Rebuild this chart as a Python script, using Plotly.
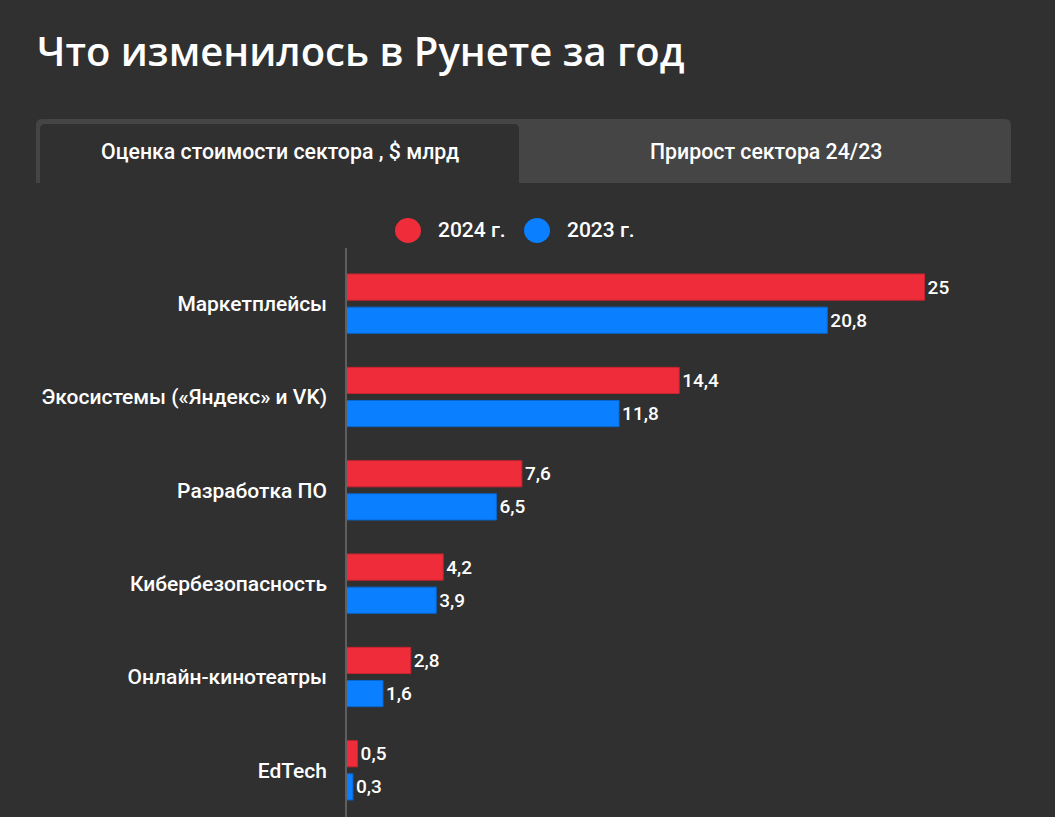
import plotly.graph_objects as go

categories = ["Маркетплейсы", "Экосистемы («Яндекс» и VK)", "Разработка ПО",
              "Кибербезопасность", "Онлайн-кинотеатры", "EdTech"]
values_2024 = [25, 14.4, 7.6, 4.2, 2.8, 0.5]
values_2023 = [20.8, 11.8, 6.5, 3.9, 1.6, 0.3]
series_names = ["2024 г.", "2023 г."]
tab_labels = ["Оценка стоимости сектора , $ млрд", "Прирост сектора 24/23"]
title_text = "Что изменилось в Рунете за год"

RED = "#EF2D3A"
BLUE = "#0A7FFF"
BG = "#303030"
TAB_BG = "#454545"

W, H = 1055, 817
ML, MR, MT, MB = 346, 61, 257, 0
PW = W - ML - MR
PH = H - MT - MB


def px(x):
    return (x - ML) / PW


def py(y):
    return (H - MB - y) / PH


def fmt(v):
    return f"{v:g}".replace(".", ",")


def top_rounded(x0, x1, y0, y1, r):
    # rectangle in pixels with rounded top corners, as paper-space path
    return (f"M {px(x0)},{py(y1)} L {px(x0)},{py(y0 + r)} "
            f"Q {px(x0)},{py(y0)} {px(x0 + r)},{py(y0)} "
            f"L {px(x1 - r)},{py(y0)} Q {px(x1)},{py(y0)} {px(x1)},{py(y0 + r)} "
            f"L {px(x1)},{py(y1)} Z")


fig = go.Figure()
for name, vals, col, edge in [(series_names[0], values_2024, RED, "#c9232f"),
                              (series_names[1], values_2023, BLUE, "#0867d0")]:
    fig.add_trace(go.Bar(
        y=categories, x=vals, name=name, orientation="h",
        marker=dict(color=col, line=dict(width=1, color=edge)),
        text=[fmt(v) for v in vals], textposition="outside",
        textfont=dict(family="Roboto", size=19, color="white", weight=500),
        cliponaxis=False, showlegend=False,
    ))

shapes = [
    # tab strip
    dict(type="path", xref="paper", yref="paper", path=top_rounded(36, 1011, 119, 183, 6),
         fillcolor=TAB_BG, line=dict(width=0), layer="below"),
    dict(type="path", xref="paper", yref="paper", path=top_rounded(40, 519, 124, 183, 5),
         fillcolor=BG, line=dict(width=0), layer="below"),
    # axis line
    dict(type="line", xref="paper", yref="paper", x0=0, x1=0,
         y0=py(817), y1=py(248), line=dict(color="#5f5f5f", width=2)),
    # legend dots
    dict(type="circle", xref="paper", yref="paper", x0=px(395), x1=px(421),
         y0=py(243), y1=py(218), fillcolor=RED, line=dict(width=0)),
    dict(type="circle", xref="paper", yref="paper", x0=px(524), x1=px(550),
         y0=py(243), y1=py(218), fillcolor=BLUE, line=dict(width=0)),
]

annotations = [
    dict(text=title_text, xref="paper", yref="paper", x=px(35), y=py(50),
         xanchor="left", yanchor="middle", showarrow=False,
         font=dict(family="Open Sans", size=40, color="white", weight=600)),
    dict(text=tab_labels[0], xref="paper", yref="paper", x=px(280), y=py(151),
         xanchor="center", yanchor="middle", showarrow=False,
         font=dict(family="Roboto", size=21.3, color="white", weight=500)),
    dict(text=tab_labels[1], xref="paper", yref="paper", x=px(766), y=py(151),
         xanchor="center", yanchor="middle", showarrow=False,
         font=dict(family="Roboto", size=21.3, color="white", weight=500)),
    dict(text=series_names[0], xref="paper", yref="paper", x=px(436), y=py(230),
         xanchor="left", yanchor="middle", showarrow=False,
         font=dict(family="Roboto", size=21, color="white", weight=500)),
    dict(text=series_names[1], xref="paper", yref="paper", x=px(565), y=py(230),
         xanchor="left", yanchor="middle", showarrow=False,
         font=dict(family="Roboto", size=21, color="white", weight=500)),
]

fig.update_layout(
    width=W, height=H,
    margin=dict(l=ML, r=MR, t=MT, b=MB),
    paper_bgcolor=BG, plot_bgcolor=BG,
    barmode="group", bargap=0.29, bargroupgap=0.21,
    separators=", ",
    xaxis=dict(range=[0, 28], visible=False, fixedrange=True),
    yaxis=dict(autorange="reversed", showgrid=False, zeroline=False,
               ticks="", ticklabelstandoff=18, fixedrange=True,
               tickfont=dict(family="Roboto", size=21, color="white", weight=500)),
    shapes=shapes, annotations=annotations,
)

fig.write_html("out.html", config={"displayModeBar": False},
               post_script="document.body.style.margin='0';")
